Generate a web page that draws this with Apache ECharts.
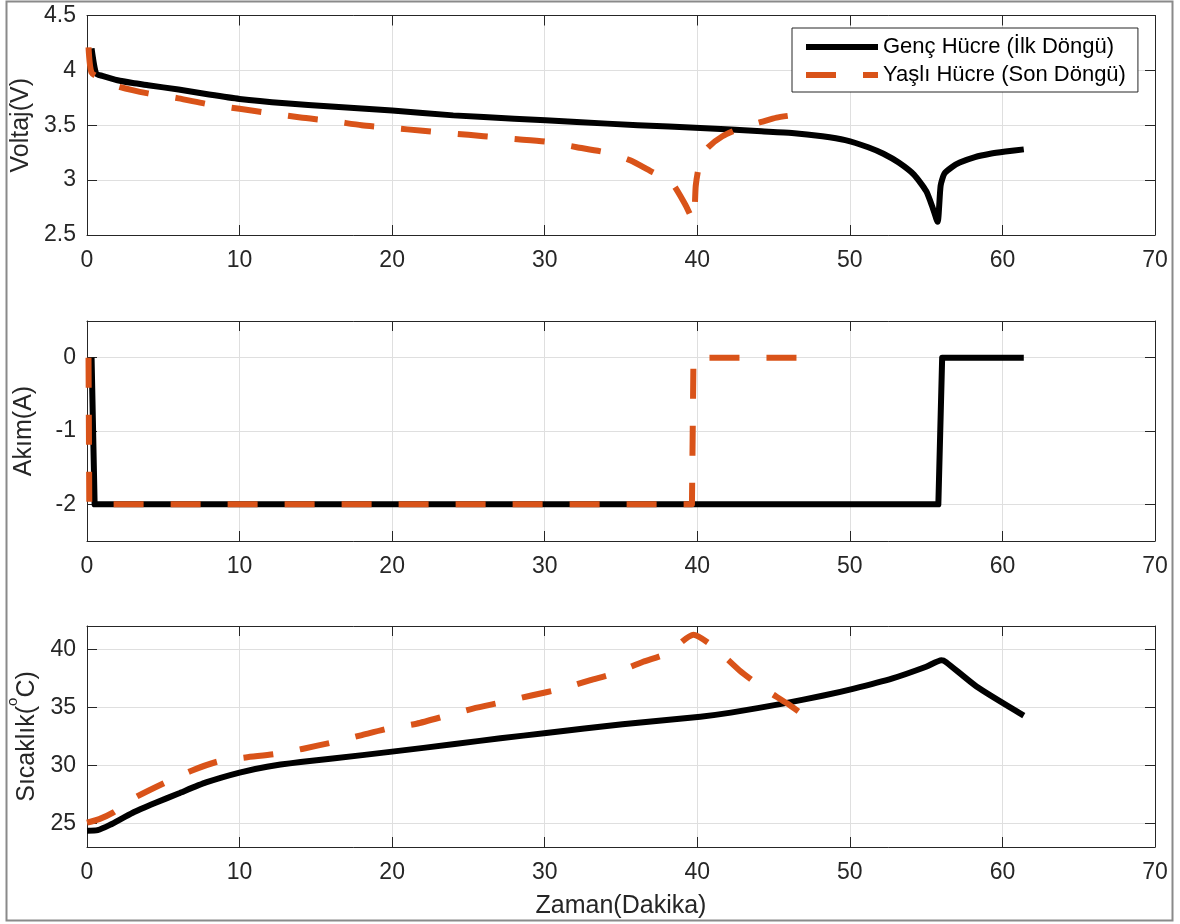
<!DOCTYPE html>
<html>
<head>
<meta charset="utf-8">
<title>Genç ve Yaşlı Hücre</title>
<script src="https://cdn.jsdelivr.net/npm/echarts@6/dist/echarts.min.js"></script>
<style>
html, body { margin: 0; padding: 0; background: #fff; }
#chart-div { width: 1180px; height: 924px; }
</style>
</head>
<body>
<div id="chart-div"></div>
<script>
// seri adları
g_names = ["Genç Hücre (İlk Döngü)", "Yaşlı Hücre (Son Döngü)"];

// tik değerleri
g_akim_ticks = [-2, -1, 0];
g_sicaklik_ticks = [25, 30, 35, 40];

// voltaj - genç hücre
g_genc_volt_t = [0.3, 0.6, 1, 2, 3, 4, 6, 8, 10, 13, 16, 20, 24, 28, 32.1, 36.1,
		 40.2, 44.2, 46.2, 48.2, 49.7, 51.2, 52.2, 53.2, 54.2, 55.0, 55.4,
		 55.75, 55.95, 56.2, 56.7, 57.2, 58.2, 59.2, 60.2, 61.4];
g_genc_volt = [4.2, 3.97, 3.95, 3.91, 3.885, 3.865, 3.825, 3.78, 3.74, 3.70,
	       3.67, 3.635, 3.59, 3.56, 3.53, 3.50, 3.475, 3.445, 3.43, 3.40,
	       3.365, 3.30, 3.24, 3.16, 3.05, 2.90, 2.76, 2.62, 2.95, 3.06, 3.12,
	       3.16, 3.21, 3.24, 3.26, 3.28];

// voltaj - yaşlı hücre
g_yasli_volt_t = [0.1, 0.3, 1, 2, 4, 6, 8, 10, 12, 14, 16, 18, 20, 22, 24, 26,
		  28, 30.1, 32.1, 34.1, 35.6, 37.1, 38.25, 39.2, 39.75, 39.9,
		  40.15, 40.65, 41.65, 42.95, 44.2, 45.2, 46.4, 46.9];
g_yasli_volt = [4.21, 3.98, 3.92, 3.855, 3.79, 3.745, 3.69, 3.65, 3.61, 3.57,
		3.54, 3.50, 3.475, 3.45, 3.425, 3.40, 3.375, 3.35, 3.30, 3.25,
		3.18, 3.07, 2.99, 2.78, 2.63, 2.95, 3.15, 3.29, 3.40, 3.48, 3.53,
		3.57, 3.595, 3.61];

// akım
g_genc_akim_t = [0.3, 0.5, 55.8, 56.05, 61.4];
g_genc_akim = [0, -2, -2, 0, 0];
g_yasli_akim_t = [0.1, 0.15, 39.65, 39.75, 46.9];
g_yasli_akim = [0, -2, -2, 0, 0];

// sıcaklık - genç hücre
g_genc_sic_t = [0, 0.7, 1.5, 3, 4.5, 6, 7.8, 10, 11.8, 14, 16.1, 20, 24.1, 27.1,
		30.1, 35.1, 40.2, 42.2, 45.7, 48.2, 50.2, 52.8, 55.0, 56.0, 56.3,
		58.3, 61.4];
g_genc_sic = [24.4, 24.45, 24.9, 25.95, 26.8, 27.6, 28.55, 29.4, 29.9, 30.3,
	      30.6, 31.2, 31.85, 32.35, 32.8, 33.55, 34.2, 34.55, 35.35, 36.0,
	      36.6, 37.5, 38.5, 39.05, 38.9, 36.8, 34.3];

// sıcaklık - yaşlı hücre
g_yasli_sic_t = [0, 0.8, 1.7, 3.15, 5.0, 6.85, 8.6, 10.4, 12.4, 14.1, 16.1,
		 17.95, 19.8, 21.6, 23.6, 25.3, 27.3, 29.2, 31.0, 33.0, 34.55,
		 36.45, 38.05, 39.75, 41.05, 42.75, 44.2, 45.9, 46.9];
g_yasli_sic = [25.1, 25.4, 25.95, 27.25, 28.46, 29.56, 30.36, 30.7, 31.0,
	       31.43, 32.0, 32.6, 33.2, 33.6, 34.3, 34.9, 35.47, 36.05, 36.57,
	       37.35, 37.92, 38.93, 39.66, 41.25, 40.24, 38.2, 36.76, 35.33, 34.4];

FONT = "Liberation Sans, Arial, sans-serif";
AXIS_COLOR = "#262626";
GRID_COLOR = "#dfdfdf";
ORANGE = "#d95319";

// grafik alanları
g_grids = [
	{ left: 87, width: 1068, top: 15.5, height: 219.5,
	  outerBoundsMode: "none" },
	{ left: 87, width: 1068, top: 321, height: 220,
	  outerBoundsMode: "none" },
	{ left: 87, width: 1068, top: 626, height: 221,
	  outerBoundsMode: "none" }
];

function pairs(t, y) {
	return t.map((v, i) => [v, y[i]]);
}

// x eksenleri (alt + üst ayna)
function x_axes(i, name) {
	var bottom = {
		gridIndex: i, type: "value", position: "bottom",
		min: 0, max: 70, interval: 10,
		axisLine: { onZero: false, lineStyle: { color: AXIS_COLOR } },
		axisTick: { inside: true, length: 10,
			    lineStyle: { color: AXIS_COLOR } },
		axisLabel: { margin: 14, color: AXIS_COLOR, fontSize: 23,
			     fontFamily: FONT },
		splitLine: { show: true, lineStyle: { color: GRID_COLOR } }
	};
	if (name) {
		bottom.name = name;
		bottom.nameLocation = "middle";
		bottom.nameGap = 47;
		bottom.nameTextStyle = { color: AXIS_COLOR, fontSize: 25,
					 fontFamily: FONT };
	}
	var top = {
		gridIndex: i, type: "value", position: "top",
		min: 0, max: 70, interval: 10,
		axisLine: { onZero: false, lineStyle: { color: AXIS_COLOR } },
		axisTick: { inside: true, length: 10,
			    lineStyle: { color: AXIS_COLOR } },
		axisLabel: { show: false },
		splitLine: { show: false }
	};
	return [bottom, top];
}

// y eksenleri (sol + sağ ayna)
function y_axes(i, min, max, interval, ticks, name, gap) {
	var left = {
		gridIndex: i, type: "value", position: "left",
		min: min, max: max,
		name: name, nameLocation: "middle", nameGap: gap,
		nameTextStyle: {
			color: AXIS_COLOR, fontSize: 25, fontFamily: FONT,
			rich: {
				n: { fontSize: 25, fontFamily: FONT,
				     color: AXIS_COLOR, lineHeight: 34,
				     verticalAlign: "bottom" },
				sup: { fontSize: 15, fontFamily: FONT,
				       color: AXIS_COLOR, lineHeight: 15,
				       verticalAlign: "top" }
			}
		},
		axisLine: { onZero: false, lineStyle: { color: AXIS_COLOR } },
		axisTick: { inside: true, length: 10,
			    lineStyle: { color: AXIS_COLOR } },
		axisLabel: { margin: 11, color: AXIS_COLOR, fontSize: 23,
			     fontFamily: FONT },
		splitLine: { show: true, lineStyle: { color: GRID_COLOR } }
	};
	var right = {
		gridIndex: i, type: "value", position: "right",
		min: min, max: max,
		axisLine: { onZero: false, lineStyle: { color: AXIS_COLOR } },
		axisTick: { inside: true, length: 10,
			    lineStyle: { color: AXIS_COLOR } },
		axisLabel: { show: false },
		splitLine: { show: false }
	};
	if (interval) {
		left.interval = interval;
		right.interval = interval;
	} else {
		left.axisLabel.customValues = ticks;
		left.axisTick.customValues = ticks;
		right.axisTick.customValues = ticks;
	}
	return [left, right];
}

function line_series(name, i, data, dashed, smooth) {
	return {
		name: name, type: "line", data: data,
		xAxisIndex: 2 * i, yAxisIndex: 2 * i,
		symbol: "none",
		smooth: smooth,
		lineStyle: {
			color: dashed ? ORANGE : "#000",
			width: 6,
			type: dashed ? [30, 27] : "solid",
			join: "round"
		},
		itemStyle: { color: dashed ? ORANGE : "#000" }
	};
}

g_chart = echarts.init(document.getElementById("chart-div"));

g_chart_option = {
	animation: false,
	backgroundColor: "#fff",
	grid: g_grids,
	xAxis: [].concat(x_axes(0), x_axes(1), x_axes(2, "Zaman(Dakika)")),
	yAxis: [].concat(
		y_axes(0, 2.5, 4.5, 0.5, null, "Voltaj(V)", 52),
		y_axes(1, -2.5, 0.5, null, g_akim_ticks, "Akım(A)", 50),
		y_axes(2, 23, 42, null, g_sicaklik_ticks,
		       "{n|Sıcaklık(}{sup|o}{n|C)}", 45)),
	legend: {
		data: g_names,
		left: 792, top: 28,
		orient: "vertical",
		itemWidth: 72, itemHeight: 14, itemGap: 6,
		padding: [8, 12, 6, 11],
		backgroundColor: "#fff",
		borderColor: AXIS_COLOR, borderWidth: 1,
		lineStyle: { width: 6 },
		itemStyle: { opacity: 0 },
		textStyle: { color: "#000", fontSize: 22, fontFamily: FONT }
	},
	graphic: [{
		type: "rect",
		shape: { x: 6.5, y: 1.5, width: 1166, height: 919 },
		style: { fill: "none", stroke: "#8a8a8a", lineWidth: 2 },
		silent: true
	}],
	series: [
		line_series(g_names[0], 0, pairs(g_genc_volt_t, g_genc_volt),
			    false, 0.2),
		line_series(g_names[1], 0, pairs(g_yasli_volt_t, g_yasli_volt),
			    true, 0.2),
		line_series(g_names[0], 1, pairs(g_genc_akim_t, g_genc_akim),
			    false, false),
		line_series(g_names[1], 1, pairs(g_yasli_akim_t, g_yasli_akim),
			    true, false),
		line_series(g_names[0], 2, pairs(g_genc_sic_t, g_genc_sic),
			    false, 0.2),
		line_series(g_names[1], 2, pairs(g_yasli_sic_t, g_yasli_sic),
			    true, 0.2)
	]
};

g_chart.setOption(g_chart_option);
</script>
</body>
</html>
